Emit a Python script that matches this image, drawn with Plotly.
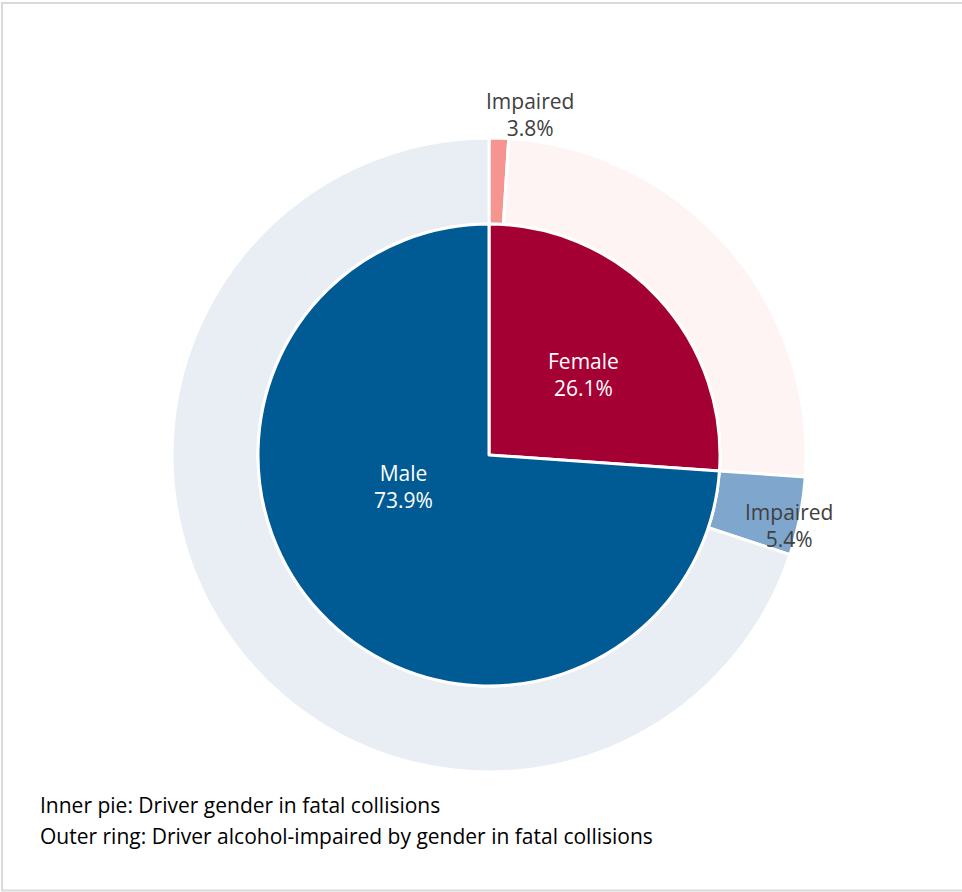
import math
import plotly.graph_objects as go

# ---- data ----
genders = ["Female", "Male"]
gender_share = [26.1, 73.9]          # % of drivers in fatal collisions
impaired_share = [3.8, 5.4]          # % impaired within each gender
outer_label = "Impaired"
footer_lines = ["Inner pie: Driver gender in fatal collisions",
                "Outer ring: Driver alcohol-impaired by gender in fatal collisions"]

# ---- styles ----
W, H = 962, 892
CX, CY = 489, 455
R_IN, R_OUT = 231, 317
inner_colors = ["#A50034", "#005A94"]
outer_colors = ["#F6958F", "#FEF4F4", "#7FA6CD", "#E9EEF4"]
label_color = "#404040"
FONT = "Open Sans"
FS = 21
inner_label_pos = [(124, 2.5), (91, 23.0)]   # (radius px, angle shift deg)
outer_label_pos = [(343, 5.0), (308, 2.0)]   # (radius px, angle shift deg)

# outer ring values built from the read shares
outer_vals, outer_names = [], []
for g, s, p in zip(genders, gender_share, impaired_share):
    imp = s * p / 100.0
    outer_vals += [imp, s - imp]
    outer_names += [f"{g} impaired", f"{g} not impaired"]

def dom(r):
    return dict(x=[(CX - r) / W, (CX + r) / W], y=[1 - (CY + r) / H, 1 - (CY - r) / H])

def polar(r, ang_rad):
    x = CX + r * math.sin(ang_rad)
    y = CY - r * math.cos(ang_rad)
    return x / W, 1 - y / H

fig = go.Figure()
fig.add_trace(go.Pie(
    values=outer_vals, labels=outer_names, sort=False, direction="clockwise", rotation=0,
    hole=R_IN / R_OUT, domain=dom(R_OUT), textinfo="none", hoverinfo="label+value",
    marker=dict(colors=outer_colors, line=dict(color="white", width=3)), showlegend=False,
))
fig.add_trace(go.Pie(
    values=gender_share, labels=genders, sort=False, direction="clockwise", rotation=0,
    domain=dom(R_IN), textinfo="none", hoverinfo="label+value",
    marker=dict(colors=inner_colors, line=dict(color="white", width=3)), showlegend=False,
))

# inner labels at slice mid-angles
tot_in = sum(gender_share)
cum = 0.0
for i, (g, s) in enumerate(zip(genders, gender_share)):
    mid = (cum + s / 2) / tot_in * 360 + inner_label_pos[i][1]
    x, y = polar(inner_label_pos[i][0], math.radians(mid))
    fig.add_annotation(x=x, y=y, xref="paper", yref="paper", xanchor="center", yanchor="middle",
                       text=f"{g}<br>{s}%", showarrow=False,
                       font=dict(size=FS, color="white", family=FONT))
    cum += s

# outer labels for the impaired slices
total = sum(outer_vals)
cum = 0.0
k = 0
for i, v in enumerate(outer_vals):
    if i % 2 == 0:
        mid = (cum + v / 2) / total * 360 + outer_label_pos[k][1]
        x, y = polar(outer_label_pos[k][0], math.radians(mid))
        fig.add_annotation(x=x, y=y, xref="paper", yref="paper", xanchor="center", yanchor="middle",
                           text=f"{outer_label}<br>{impaired_share[k]}%", showarrow=False,
                           font=dict(size=FS, color=label_color, family=FONT))
        k += 1
    cum += v

for j, line in enumerate(footer_lines):
    fig.add_annotation(x=38 / W, y=1 - (805 + 31 * j) / H, xref="paper", yref="paper",
                       xanchor="left", yanchor="middle", text=line, showarrow=False,
                       font=dict(size=FS, color="black", family=FONT))

fig.add_shape(type="rect", xref="paper", yref="paper",
              x0=2 / W, x1=964 / W, y0=1 - 890.5 / H, y1=1 - 3 / H,
              line=dict(color="#D9D9D9", width=2))

fig.update_layout(width=W, height=H, margin=dict(l=0, r=0, t=0, b=0),
                  paper_bgcolor="white", plot_bgcolor="white", font=dict(family=FONT))
fig.write_html("out.html", config={"displayModeBar": False},
               post_script="document.body.style.margin='0px';")
